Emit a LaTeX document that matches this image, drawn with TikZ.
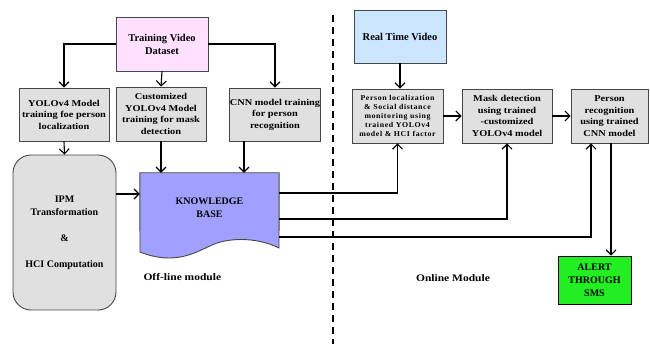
\documentclass[tikz,border=0pt]{standalone}
\usepackage{fontspec}
\setmainfont{Liberation Serif}
\newfontfamily\widefont[LetterSpace=8.0,FakeStretch=1.05]{Liberation Serif}
\newfontfamily\boxfont[FakeStretch=1.15]{Liberation Serif}
\usetikzlibrary{arrows.meta}
\definecolor{boxgray}{RGB}{224,224,224}
\definecolor{datapink}{RGB}{255,224,255}
\definecolor{videoblue}{RGB}{204,230,255}
\definecolor{kbblue}{RGB}{160,160,255}
\definecolor{alertgreen}{RGB}{34,238,34}
\definecolor{edgegray}{RGB}{70,70,70}

\tikzset{
  box/.style={draw=edgegray, line width=0.9pt, fill=boxgray, inner sep=0pt,
    align=center, minimum width=90pt, minimum height=53pt,
    font=\boxfont\bfseries\fontsize{9}{11.5}\selectfont},
  arr/.style={-{Straight Barb[length=5pt,width=10pt]}, line width=1.1pt},
  label/.style={font=\boxfont\bfseries\fontsize{10}{12}\selectfont},
}

\begin{document}
\begin{tikzpicture}[x=1pt,y=-1pt]

\useasboundingbox (0,0) rectangle (650,347);

%% off-line module
% boxes
\node [box,fill=datapink,minimum width=92pt,minimum height=54pt,
  font=\bfseries\fontsize{10.5}{13}\selectfont] (data) at (162,44) {Training Video\\Dataset};
\node [box] (yolo) at (64,114.5) {YOLOv4 Model\\training foe person\\localization};
\node [box,minimum height=54pt] (mask) at (161,114) {Customized\\YOLOv4 Model\\training for mask\\detection};
\node [box] (cnn) at (275,114.5) {CNN model training\\for person\\recognition};
\node [box,rounded corners=18pt,minimum width=103pt,minimum height=155pt,
  font=\bfseries\fontsize{10}{13}\selectfont] (ipm) at (64.5,232.5)
  {IPM\\Transformation\\[13pt]\&\\[13pt]HCI Computation};
% knowledge base (document shape)
\node [inner sep=0pt,minimum width=139pt,minimum height=84pt] (kb) at (209.5,215) {};
\filldraw [fill=kbblue,draw=edgegray,line width=0.9pt] (kb.north west) -- (kb.north east) -- (279,248)
  .. controls (255,236) and (225,238) .. (210,246)
  .. controls (196,252) and (175,266) .. (140,252) -- cycle;
\node [align=center,font=\bfseries\fontsize{10}{13}\selectfont] (kbtext) at (209.5,207.5) {KNOWLEDGE\\BASE};
\node [label,anchor=west] (offline) at (140,277) {Off-line module};
% arrows
\draw [arr] (data.west) -| (yolo.north);
\draw [arr] (data.east) -| (cnn.north);
\draw [arr] (data.south) -- (mask.north);
\draw [arr] (yolo.south) -- (ipm.north);
\draw [arr] (mask.south) -- (mask.south |- kb.north);
\draw [arr] ([xshift=-31pt]cnn.south) -- ([xshift=-31pt]cnn.south |- kb.north);
\draw [arr] ([yshift=38.5pt]ipm.east) -- ([yshift=38.5pt]ipm.east -| kb.west);

%% divider
\draw [line width=1.1pt,dash pattern=on 7pt off 5pt] (333,15) -- (333,344);

%% online module
% boxes
\node [box,fill=videoblue,minimum width=92pt,
  font=\bfseries\fontsize{10.5}{13}\selectfont] (video) at (400,36.5) {Real Time Video};
\node [box,minimum width=91pt,minimum height=54pt,
  font=\widefont\bfseries\fontsize{7.5}{9.2}\selectfont] (local) at (397.5,116)
  {Person localization\\\& Social distance\\monitoring  using\\trained YOLOv4\\model \& HCI factor};
\node [box,minimum height=54pt] (detect) at (507,116) {Mask detection\\using  trained\\-customized\\YOLOv4 model};
\node [box,minimum width=77pt,minimum height=54pt] (recog) at (609.5,116) {Person\\recognition\\using  trained\\CNN model};
\node [box,fill=alertgreen,draw=black,minimum width=73pt,minimum height=48pt,
  font=\bfseries\fontsize{10}{13}\selectfont] (alert) at (594.5,280) {ALERT\\THROUGH\\SMS};
\node [label] (online) at (453,278) {Online Module};
% arrows
\draw [arr] (video.south) -- (video.south |- local.north);
\draw [arr] (local.east) -- (detect.west);
\draw [arr] (detect.east) -- (recog.west);
\draw [arr] ([xshift=1.5pt]recog.south) -- ([xshift=1.5pt]recog.south |- alert.north);
% links from knowledge base
\draw [arr] ([yshift=22pt]kb.east) -| (local.south);
\draw [arr] ([yshift=-4pt]kb.east) -| (detect.south);
\draw [arr] ([yshift=-22pt]kb.east) -| ([xshift=-18.5pt]recog.south);

\end{tikzpicture}
\end{document}
